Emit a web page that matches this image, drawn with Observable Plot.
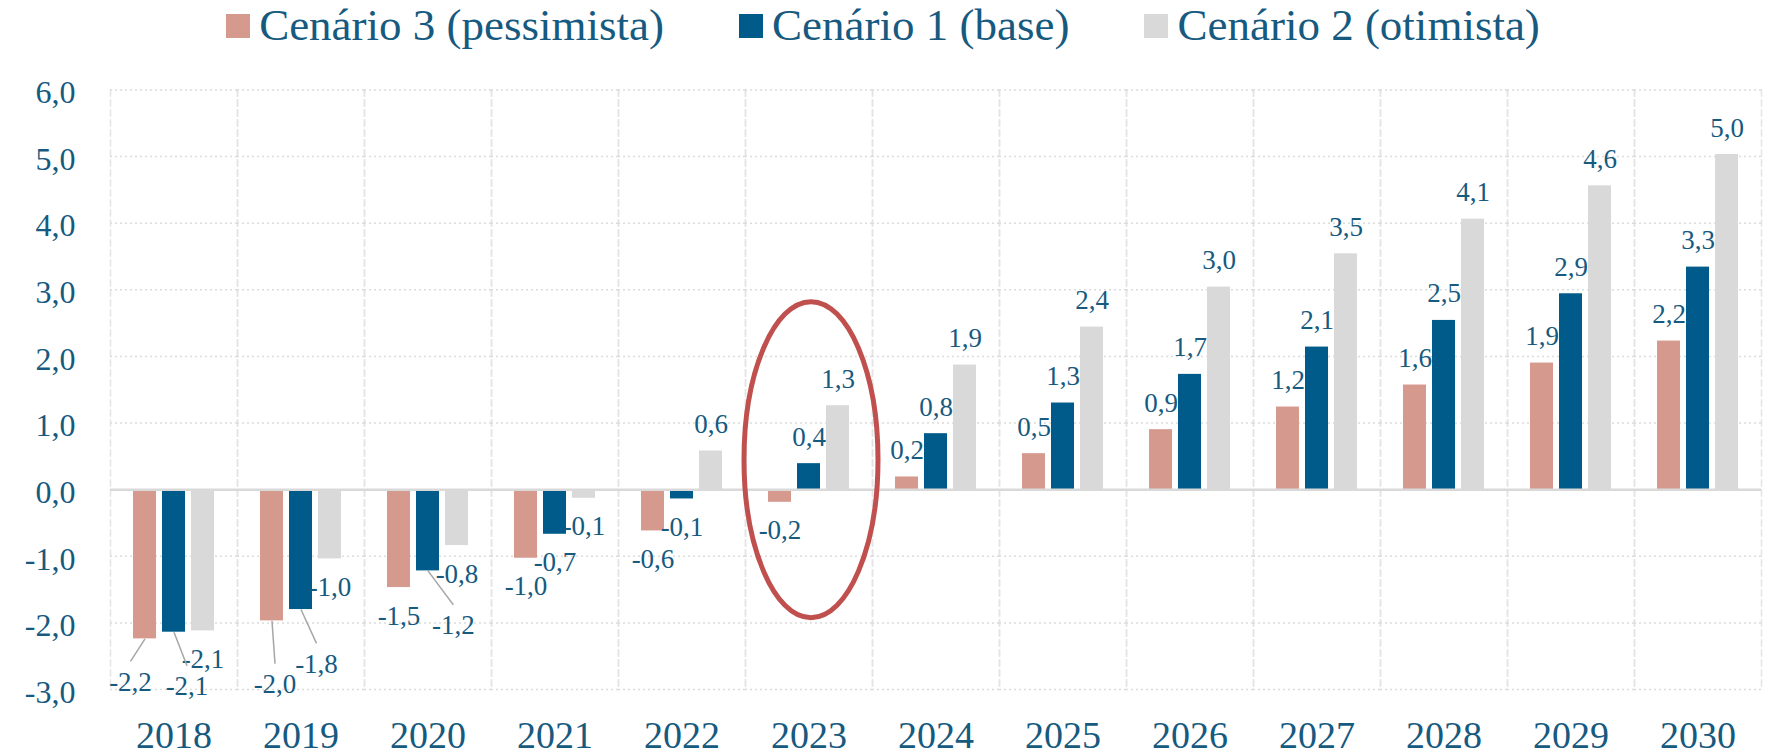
<!DOCTYPE html>
<html>
<head>
<meta charset="utf-8">
<script src="https://cdn.jsdelivr.net/npm/d3@7"></script>
<script src="https://cdn.jsdelivr.net/npm/@observablehq/plot@0.6"></script>
<style>
  html, body { margin: 0; padding: 0; background: #fff; }
  body { width: 1766px; height: 754px; overflow: hidden; font-family: "Liberation Serif", serif; }
  #legend { height: 50px; line-height: 50px; display: flex; justify-content: center; gap: 75px; font-size: 45px; color: #165A80; white-space: nowrap; }
  #legend .sw { display: inline-block; width: 24px; height: 24px; margin-right: 9px; vertical-align: baseline; position: relative; top: -2px; }
  #chart svg { display: block; }
</style>
</head>
<body>
<div id="legend"></div>
<div id="chart"></div>
<script>
// ---- data ----
const years = [2018, 2019, 2020, 2021, 2022, 2023, 2024, 2025, 2026, 2027, 2028, 2029, 2030];
const seriesNames = ["Cenário 3 (pessimista)", "Cenário 1 (base)", "Cenário 2 (otimista)"];
const pessimista = [-2.24, -1.97, -1.47, -1.03, -0.62, -0.19, 0.19, 0.54, 0.90, 1.24, 1.57, 1.90, 2.23];
const base       = [-2.14, -1.80, -1.22, -0.67, -0.14, 0.39, 0.84, 1.30, 1.73, 2.14, 2.54, 2.94, 3.34];
const otimista   = [-2.12, -1.04, -0.84, -0.13, 0.58, 1.26, 1.87, 2.44, 3.04, 3.54, 4.06, 4.56, 5.03];
const yTicks = [-3, -2, -1, 0, 1, 2, 3, 4, 5, 6];
const highlightYear = 2023;
const highlightCenter = 0.45;

// ---- styles ----
const colors = ["#D6998E", "#005B8A", "#D9D9D9"];
const textColor = "#165A80";
// label placement tweaks (px) for crowded labels with leader lines
const labelAdjust = [
  {year: 2018, s: 0, dx: -14.5, dy: 34},
  {year: 2018, s: 1, dx: 13, dy: 45},
  {year: 2019, s: 0, dx: 3, dy: 54.3},
  {year: 2019, s: 1, dx: 15.5, dy: 45.3},
  {year: 2020, s: 1, dx: 25.3, dy: 45.3}
];

const seriesValues = [pessimista, base, otimista];
const data = years.flatMap((year, i) => seriesNames.map((series, s) => ({year, series, s, value: seriesValues[s][i]})));
const fmt = v => v.toFixed(1).replace(".", ",");
const adjOf = d => labelAdjust.find(a => a.year === d.year && a.s === d.s);
const normal = data.filter(d => !adjOf(d));
const special = data.filter(d => adjOf(d)).map(d => ({...d, ...adjOf(d)}));

// legend
const legend = document.getElementById("legend");
seriesNames.forEach((name, i) => {
  const item = document.createElement("span");
  const sw = document.createElement("span");
  sw.className = "sw";
  sw.style.background = colors[i];
  item.appendChild(sw);
  item.appendChild(document.createTextNode(name));
  legend.appendChild(item);
});

// ellipse symbol (annotation)
const ellipseSymbol = {
  draw(ctx) {
    const rx = 67, ry = 158, k = 0.5523;
    ctx.moveTo(rx, 0);
    ctx.bezierCurveTo(rx, ry * k, rx * k, ry, 0, ry);
    ctx.bezierCurveTo(-rx * k, ry, -rx, ry * k, -rx, 0);
    ctx.bezierCurveTo(-rx, -ry * k, -rx * k, -ry, 0, -ry);
    ctx.bezierCurveTo(rx * k, -ry, rx, -ry * k, rx, 0);
    ctx.closePath();
  }
};

const plot = Plot.plot({
  width: 1766,
  height: 704,
  marginLeft: 107,
  marginRight: 1.5,
  marginTop: 39.4,
  marginBottom: 65,
  style: {fontFamily: "'Liberation Serif', serif", color: textColor, background: "#fff", overflow: "visible"},
  fx: {domain: years, paddingInner: 0, paddingOuter: 0, label: null},
  x: {domain: seriesNames, paddingInner: 0.205, paddingOuter: 0.778, axis: null},
  y: {domain: [-3, 6], axis: null},
  color: {domain: seriesNames, range: colors},
  marks: [
    Plot.frame({anchor: "left", stroke: "#e4e4e4", strokeWidth: 1.5, strokeDasharray: "6,4"}),
    Plot.frame({anchor: "right", stroke: "#e4e4e4", strokeWidth: 1.5, strokeDasharray: "6,4"}),
    Plot.gridY({ticks: yTicks, stroke: "#dcdcdc", strokeOpacity: 1, strokeWidth: 1.5, strokeDasharray: "2,3"}),
    Plot.axisY({ticks: yTicks, tickFormat: fmt, tickSize: 0, tickPadding: 35, fontSize: 32, dy: 3, fill: textColor, label: null}),
    Plot.axisFx({anchor: "bottom", tickSize: 0, tickPadding: 32, fontSize: 38, fill: textColor, label: null, tickFormat: d => String(d)}),
    Plot.barY(data, {fx: "year", x: "series", y: "value", fill: "series"}),
    Plot.ruleY([0], {stroke: "#d9d9d9", strokeWidth: 2.5}),
    Plot.text(normal.filter(d => d.value >= 0), {fx: "year", x: "series", y: "value", text: d => fmt(d.value), lineAnchor: "bottom", dy: -18, fontSize: 27, fill: textColor}),
    Plot.text(normal.filter(d => d.value < 0), {fx: "year", x: "series", y: "value", text: d => fmt(d.value), lineAnchor: "top", dy: 18, fontSize: 27, fill: textColor}),
    Plot.link(special, {
      fx: "year", x1: "series", x2: "series", y1: "value", y2: "value",
      stroke: "#a6a6a6", strokeWidth: 1.5,
      render(index, scales, values, dimensions, context, next) {
        const X2 = Array.from(values.x2, (v, i) => v + special[i].dx);
        const Y2 = Array.from(values.y2, (v, i) => v + special[i].dy - 11.5);
        return next(index, scales, {...values, x2: X2, y2: Y2}, dimensions, context);
      }
    }),
    Plot.text(special, {
      fx: "year", x: "series", y: "value", text: d => fmt(d.value),
      lineAnchor: "top", fontSize: 27, fill: textColor,
      render(index, scales, values, dimensions, context, next) {
        const X = Array.from(values.x, (v, i) => v + special[i].dx);
        const Y = Array.from(values.y, (v, i) => v + special[i].dy - 1.3);
        return next(index, scales, {...values, x: X, y: Y}, dimensions, context);
      }
    }),
    Plot.dot([{year: highlightYear, series: seriesNames[1], y: highlightCenter}], {
      fx: "year", x: "series", y: "y", symbol: ellipseSymbol, r: 10, dx: 2,
      stroke: "#C0504D", strokeWidth: 5, fill: "none"
    })
  ]
});
document.getElementById("chart").appendChild(plot);
</script>
</body>
</html>
